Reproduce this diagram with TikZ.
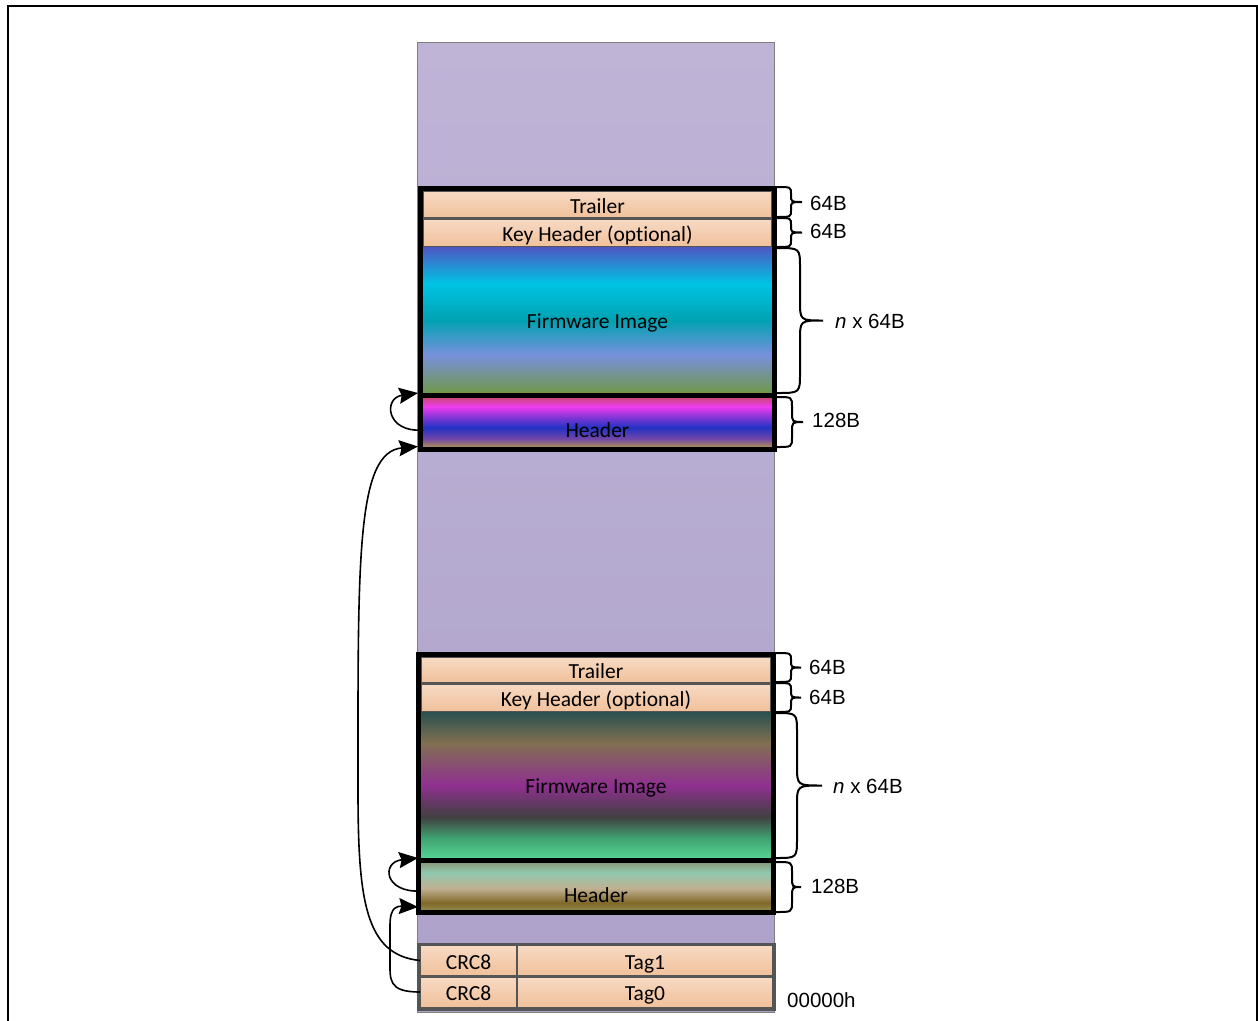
\documentclass[tikz,border=0pt]{standalone}
\usepackage{fontspec}
\setmainfont{Carlito}[Ligatures={NoCommon,NoRequired,NoContextual}]
\newfontfamily\arialf{Liberation Sans}
\usetikzlibrary{arrows.meta,fit}

\definecolor{peachT}{HTML}{F7DAC4}
\definecolor{peachB}{HTML}{F0C09A}
\definecolor{boxgray}{HTML}{555555}
\definecolor{colT}{HTML}{BFB4D6}
\definecolor{colB}{HTML}{ADA1CA}
\definecolor{colgray}{HTML}{808080}
% upper firmware
\definecolor{fwUa}{HTML}{4E56C2}
\definecolor{fwUb}{HTML}{00C4E4}
\definecolor{fwUc}{HTML}{00A2B2}
\definecolor{fwUd}{HTML}{7890DC}
\definecolor{fwUe}{HTML}{70984A}
% upper header
\definecolor{hdUa}{HTML}{C44868}
\definecolor{hdUb}{HTML}{F03CF0}
\definecolor{hdUc}{HTML}{8A36D8}
\definecolor{hdUd}{HTML}{2232C4}
\definecolor{hdUe}{HTML}{7044A8}
\definecolor{hdUf}{HTML}{A88A5E}
% lower firmware
\definecolor{fwLa}{HTML}{2A5050}
\definecolor{fwLb}{HTML}{807050}
\definecolor{fwLc}{HTML}{903090}
\definecolor{fwLd}{HTML}{404040}
\definecolor{fwLe}{HTML}{40A070}
\definecolor{fwLf}{HTML}{54D494}
% lower header
\definecolor{hdLa}{HTML}{889878}
\definecolor{hdLb}{HTML}{90C8B0}
\definecolor{hdLc}{HTML}{C0B090}
\definecolor{hdLd}{HTML}{806828}
\definecolor{hdLe}{HTML}{908848}

\pgfdeclareverticalshading{fwUsh}{100bp}{color(0bp)=(fwUe); color(25bp)=(fwUe); color(38bp)=(fwUd); color(50bp)=(fwUc); color(62.5bp)=(fwUb); color(75bp)=(fwUa); color(100bp)=(fwUa)}
\pgfdeclareverticalshading{hdUsh}{100bp}{color(0bp)=(hdUf); color(25bp)=(hdUf); color(33bp)=(hdUe); color(44bp)=(hdUd); color(55bp)=(hdUc); color(65bp)=(hdUb); color(75bp)=(hdUa); color(100bp)=(hdUa)}
\pgfdeclareverticalshading{fwLsh}{100bp}{color(0bp)=(fwLf); color(25bp)=(fwLf); color(32bp)=(fwLe); color(39bp)=(fwLd); color(50bp)=(fwLc); color(64.5bp)=(fwLb); color(75bp)=(fwLa); color(100bp)=(fwLa)}
\pgfdeclareverticalshading{hdLsh}{100bp}{color(0bp)=(hdLe); color(25bp)=(hdLe); color(32.5bp)=(hdLd); color(47.5bp)=(hdLc); color(64bp)=(hdLb); color(75bp)=(hdLa); color(100bp)=(hdLa)}

\newcommand\mybrace[6]{%
  \draw[bracest] (#1,#2) .. controls (#4,#2) .. (#4,{#2+#6})
    -- (#4,{(#2+#3)/2-#6}) .. controls (#4,{(#2+#3)/2}) .. (#5,{(#2+#3)/2})
    .. controls (#4,{(#2+#3)/2}) .. (#4,{(#2+#3)/2+#6})
    -- (#4,{#3-#6}) .. controls (#4,#3) .. (#1,#3);}

\begin{document}
\begin{tikzpicture}[x=1pt,y=-1pt,
  cell/.style={inner sep=0pt, outer sep=0pt, font=\fontsize{21.5}{25}\selectfont,
               text height=17pt, text depth=0pt},
  peach/.style={cell, draw=boxgray, line width=1.5pt, top color=peachT, bottom color=peachB},
  frame/.style={draw=black, line width=5pt, inner sep=2.5pt, outer sep=0pt},
  frameline/.style={draw=black, line width=5pt},
  crcline/.style={draw=boxgray, line width=3pt},
  sz/.style={font=\arialf\fontsize{20.5}{24}\selectfont, anchor=west, inner sep=0pt},
  bracest/.style={draw=black, line width=2pt},
  arr/.style={draw=black, line width=1.6pt, -{Stealth[length=19pt,width=16pt,inset=2.5pt]}}]
\useasboundingbox (0,0) rectangle (1258,1020);

% outer frame
\draw[line width=2pt] (7.5,1030) -- (7.5,6) -- (1256.5,6) -- (1256.5,1030);

% memory column
\node[cell, draw=colgray, line width=1pt, top color=colT, bottom color=colB,
      minimum width=357pt, minimum height=970pt] (col) at (595.5,527) {};

% upper image
\node[peach, minimum width=349pt, minimum height=27pt] (trU) at (597.5,204.5) {Trailer};
\node[peach, minimum width=349pt, minimum height=28pt] (khU) at (597.5,233) {Key Header (optional)};
\node[cell, shading=fwUsh, minimum width=349pt, minimum height=146pt] (fwU) at (597.5,320) {Firmware Image};
\node[cell, shading=hdUsh, minimum width=349pt, minimum height=50pt,
      label={[cell, yshift=-7.5pt]center:Header}] (hdU) at (597.5,421.5) {};
\node[frame, fit=(trU)(hdU)] (uF) {};
\draw[frameline] (420.5,395.5) -- (774.5,395.5);

% lower image
\node[peach, minimum width=350pt, minimum height=26pt] (trL) at (596,670) {Trailer};
\node[peach, minimum width=350pt, minimum height=28pt] (khL) at (596,698) {Key Header (optional)};
\node[cell, shading=fwLsh, minimum width=350pt, minimum height=146pt] (fwL) at (596,785) {Firmware Image};
\node[cell, shading=hdLsh, minimum width=350pt, minimum height=48pt,
      label={[cell, yshift=-8pt]center:Header}] (hdL) at (596,886) {};
\node[frame, fit=(trL)(hdL)] (lF) {};
\draw[frameline] (418.5,860.5) -- (773.5,860.5);

% tag rows
\node[peach, line width=1.2pt, minimum width=97pt, minimum height=31pt] (crc1) at (468.5,960.5) {CRC8};
\node[peach, line width=1.2pt, minimum width=256pt, minimum height=31pt] (tag1) at (645,960.5) {Tag1};
\node[peach, line width=1.2pt, minimum width=97pt, minimum height=32pt] (crc0) at (468.5,992) {CRC8};
\node[peach, line width=1.2pt, minimum width=256pt, minimum height=32pt] (tag0) at (645,992) {Tag0};
\draw[crcline] (418.5,944.5) rectangle (774.5,1009);
\draw[crcline] (418.5,976) -- (774.5,976);

% braces and sizes
\mybrace{777}{187}{217}{791}{802}{7}
\node[sz] (s1) at (810,203) {64B};
\mybrace{777}{218}{247}{791}{802}{7}
\node[sz] (s2) at (810,231) {64B};
\mybrace{777}{248}{393}{800}{823}{20}
\node[sz] (s3) at (835,321) {\textit{n} x 64B};
\mybrace{777}{397}{447}{792}{803}{10}
\node[sz] (s4) at (812,420) {128B};

\mybrace{776}{653}{682}{791}{801}{7}
\node[sz] (s5) at (809,667) {64B};
\mybrace{776}{683}{712}{791}{801}{7}
\node[sz] (s6) at (809,697) {64B};
\mybrace{776}{713}{858}{797}{822}{20}
\node[sz] (s7) at (833,786) {\textit{n} x 64B};
\mybrace{776}{862}{912}{792}{801}{10}
\node[sz] (s8) at (811,886) {128B};

\node[sz] (addr) at (787,1000) {00000h};

% pointers
\draw[arr] ([yshift=-8.5pt]hdU.west) .. controls (386,433) and (383,398) .. ([xshift=-5pt]fwU.south west);
\draw[arr] (crc1.west) .. controls (365,955) and (358,900) .. (358,790)
   .. controls (358,560) and (356,452) .. ([xshift=-5pt]hdU.south west);
\draw[arr] ([yshift=-5pt]hdL.west) .. controls (384,893) and (381,862) .. ([xshift=-3pt]fwL.south west);
\draw[arr] (crc0.west) .. controls (388,992) and (390,980) .. (390,960)
   -- (390,925) .. controls (390,906) and (398,906) .. ([xshift=-3pt,yshift=3pt]hdL.south west);
\end{tikzpicture}
\end{document}
